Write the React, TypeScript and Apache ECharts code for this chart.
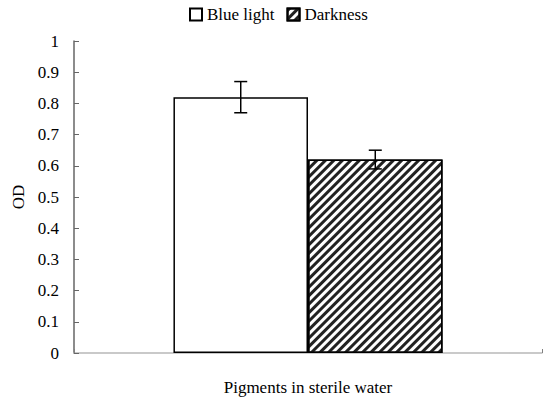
import React, { useEffect, useRef } from "react";
import * as echarts from "echarts";

const categories = ["Pigments in sterile water"];
const seriesNames = ["Blue light", "Darkness"];
const blueLight = [0.82];
const darkness = [0.62];
const blueLightErr = [0.05];
const darkness_err = [0.03];
const yTicks = { min: 0, max: 1, interval: 0.1 };

const FONT = "'Liberation Serif', 'Times New Roman', serif";
const CAT_GAP = 0.425;

export default function App() {
  const ref = useRef<HTMLDivElement>(null);
  useEffect(() => {
    if (!ref.current) return;
    const chart = echarts.init(ref.current, undefined, { renderer: "svg" });
    const errData: number[][] = [];
    categories.forEach((_, i) => {
      errData.push([i, 0, blueLight[i] - blueLightErr[i], blueLight[i] + blueLightErr[i]]);
      errData.push([i, 1, darkness[i] - darkness_err[i], darkness[i] + darkness_err[i]]);
    });
    chart.setOption({
      animation: false,
      backgroundColor: "#fff",
      textStyle: { fontFamily: FONT },
      legend: {
        data: seriesNames,
        top: 1,
        left: 184,
        icon: "rect",
        itemWidth: 12,
        itemHeight: 12,
        itemGap: 12,
        textStyle: { fontFamily: FONT, fontSize: 17, color: "#000" },
      },
      grid: { left: 74, right: 8, top: 41, bottom: 46 },
      xAxis: {
        type: "category",
        data: categories,
        name: categories[0],
        nameLocation: "middle",
        nameGap: 26,
        nameTextStyle: { fontFamily: FONT, fontSize: 17, color: "#000" },
        axisLine: { lineStyle: { color: "#b8b8b8", width: 1.5 } },
        axisTick: { show: true, inside: true, length: 4, lineStyle: { color: "#808080" } },
        axisLabel: { show: false },
      },
      yAxis: {
        type: "value",
        min: yTicks.min,
        max: yTicks.max,
        interval: yTicks.interval,
        name: "OD",
        nameLocation: "middle",
        nameGap: 44,
        nameTextStyle: { fontFamily: FONT, fontSize: 17, color: "#000" },
        axisLine: { show: true, lineStyle: { color: "#666", width: 1.5 } },
        axisTick: { show: true, inside: true, length: 5, lineStyle: { color: "#666" } },
        axisLabel: { fontFamily: FONT, fontSize: 17, color: "#000", margin: 15 },
        splitLine: { show: false },
      },
      series: [
        {
          name: seriesNames[0],
          type: "bar",
          data: blueLight,
          barGap: "0%",
          barCategoryGap: CAT_GAP * 100 + "%",
          itemStyle: { color: "#fff", borderColor: "#000", borderWidth: 1.5 },
        },
        {
          name: seriesNames[1],
          type: "bar",
          data: darkness,
          barGap: "0%",
          barCategoryGap: CAT_GAP * 100 + "%",
          itemStyle: {
            color: "#fff",
            borderColor: "#000",
            borderWidth: 1.5,
            decal: {
              symbol: "rect",
              symbolSize: 1,
              color: "#222",
              backgroundColor: "#fff",
              dashArrayX: [1, 0],
              dashArrayY: [2.2, 3],
              rotation: -Math.PI / 4,
            },
          },
        },
        {
          type: "custom",
          data: errData,
          z: 10,
          silent: true,
          renderItem: (params: any, api: any) => {
            const cat = api.value(0);
            const idx = api.value(1);
            const lo = api.coord([cat, api.value(2)]);
            const hi = api.coord([cat, api.value(3)]);
            const band = api.size([1, 0])[0];
            const barW = (band * (1 - CAT_GAP)) / 2;
            const x = lo[0] + (idx === 0 ? -barW / 2 : barW / 2);
            const cap = 6.5;
            const style = { stroke: "#000", lineWidth: 1.5 };
            return {
              type: "group",
              children: [
                { type: "line", shape: { x1: x, y1: lo[1], x2: x, y2: hi[1] }, style },
                { type: "line", shape: { x1: x - cap, y1: lo[1], x2: x + cap, y2: lo[1] }, style },
                { type: "line", shape: { x1: x - cap, y1: hi[1], x2: x + cap, y2: hi[1] }, style },
              ],
            };
          },
        },
      ],
    });
    return () => chart.dispose();
  }, []);
  return <div ref={ref} style={{ width: 550, height: 401, position: "absolute", left: 0, top: 0 }} />;
}
